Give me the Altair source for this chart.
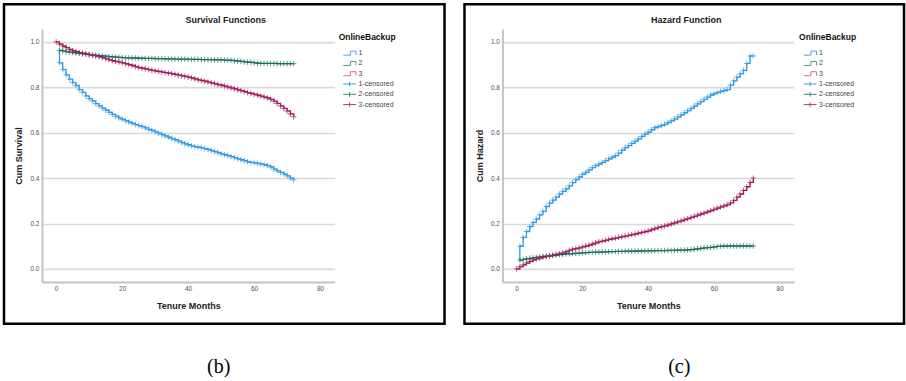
import altair as alt
import pandas as pd

FONT = "Liberation Sans"

# Tenure in months at which each curve steps / shows a censored mark
months_from_1 = list(range(1, 73))
months_from_0 = list(range(0, 73))

# OnlineBackup groups and legend entries
groups = ["1", "2", "3"]
legend_keys = ["1", "2", "3", "1-censored", "2-censored", "3-censored"]

# Cumulative survival, group 1 (months 1..72)
surv_1 = [0.908, 0.878, 0.855, 0.836, 0.821, 0.808, 0.790, 0.778, 0.762, 0.750,
          0.740, 0.728, 0.718, 0.708, 0.700, 0.690, 0.681, 0.673, 0.665, 0.659,
          0.653, 0.647, 0.641, 0.636, 0.631, 0.627, 0.621, 0.615, 0.610, 0.604,
          0.598, 0.592, 0.586, 0.580, 0.574, 0.569, 0.563, 0.557, 0.551, 0.547,
          0.542, 0.538, 0.536, 0.533, 0.530, 0.526, 0.521, 0.517, 0.512, 0.507,
          0.503, 0.499, 0.495, 0.490, 0.485, 0.481, 0.477, 0.472, 0.469, 0.467,
          0.465, 0.462, 0.459, 0.455, 0.449, 0.440, 0.432, 0.425, 0.418, 0.410,
          0.400, 0.392]
surv_start_1 = [1, 0.966]

# Cumulative survival, group 2 (months 1..72)
surv_2 = [0.963, 0.960, 0.957, 0.955, 0.953, 0.951, 0.949, 0.947, 0.946, 0.944,
          0.942, 0.941, 0.939, 0.938, 0.937, 0.935, 0.934, 0.933, 0.932, 0.931,
          0.930, 0.930, 0.929, 0.929, 0.928, 0.928, 0.927, 0.927, 0.927, 0.926,
          0.926, 0.926, 0.925, 0.925, 0.925, 0.924, 0.924, 0.924, 0.924, 0.923,
          0.923, 0.923, 0.923, 0.922, 0.922, 0.922, 0.922, 0.921, 0.921, 0.921,
          0.920, 0.920, 0.919, 0.917, 0.915, 0.914, 0.912, 0.911, 0.910, 0.908,
          0.906, 0.905, 0.905, 0.905, 0.905, 0.905, 0.904, 0.904, 0.904, 0.904,
          0.904, 0.904]

# Cumulative survival, group 3 (months 0..72)
surv_3 = [1.000, 0.990, 0.982, 0.975, 0.967, 0.961, 0.957, 0.953, 0.950, 0.947,
          0.944, 0.941, 0.938, 0.935, 0.931, 0.926, 0.921, 0.917, 0.914, 0.911,
          0.908, 0.904, 0.900, 0.896, 0.891, 0.887, 0.884, 0.881, 0.878, 0.875,
          0.872, 0.870, 0.867, 0.865, 0.862, 0.860, 0.857, 0.854, 0.851, 0.848,
          0.845, 0.841, 0.837, 0.833, 0.830, 0.827, 0.823, 0.819, 0.816, 0.812,
          0.809, 0.805, 0.801, 0.797, 0.793, 0.789, 0.785, 0.781, 0.777, 0.773,
          0.769, 0.765, 0.761, 0.757, 0.753, 0.747, 0.739, 0.729, 0.718, 0.707,
          0.696, 0.683, 0.670]

# Cumulative hazard, group 1 (months 1..72)
haz_1 = [0.100, 0.139, 0.165, 0.187, 0.205, 0.220, 0.238, 0.254, 0.275, 0.290,
         0.303, 0.316, 0.330, 0.342, 0.353, 0.366, 0.380, 0.393, 0.405, 0.417,
         0.426, 0.436, 0.446, 0.455, 0.462, 0.469, 0.477, 0.485, 0.492, 0.499,
         0.510, 0.523, 0.534, 0.543, 0.553, 0.563, 0.573, 0.584, 0.594, 0.603,
         0.613, 0.622, 0.627, 0.632, 0.637, 0.645, 0.652, 0.660, 0.670, 0.679,
         0.688, 0.697, 0.707, 0.717, 0.727, 0.737, 0.747, 0.757, 0.766, 0.772,
         0.777, 0.782, 0.785, 0.790, 0.810, 0.828, 0.845, 0.860, 0.875, 0.905,
         0.938, 0.938]
haz_start_1 = [1, 0.035]

# Cumulative hazard, group 2 (months 1..72)
haz_2 = [0.039, 0.042, 0.045, 0.047, 0.049, 0.051, 0.053, 0.055, 0.056, 0.058,
         0.060, 0.061, 0.063, 0.064, 0.066, 0.067, 0.068, 0.069, 0.070, 0.071,
         0.072, 0.073, 0.073, 0.074, 0.074, 0.075, 0.075, 0.076, 0.076, 0.077,
         0.077, 0.077, 0.078, 0.078, 0.078, 0.079, 0.079, 0.079, 0.080, 0.080,
         0.080, 0.081, 0.081, 0.081, 0.081, 0.082, 0.082, 0.082, 0.083, 0.083,
         0.083, 0.084, 0.085, 0.087, 0.089, 0.091, 0.093, 0.094, 0.095, 0.097,
         0.099, 0.100, 0.101, 0.101, 0.101, 0.101, 0.101, 0.101, 0.101, 0.101,
         0.101, 0.101]

# Cumulative hazard, group 3 (months 0..72)
haz_3 = [0.000, 0.010, 0.018, 0.026, 0.033, 0.040, 0.044, 0.048, 0.052, 0.055,
         0.058, 0.061, 0.064, 0.067, 0.071, 0.076, 0.082, 0.087, 0.090, 0.093,
         0.097, 0.101, 0.105, 0.110, 0.115, 0.120, 0.123, 0.126, 0.130, 0.133,
         0.136, 0.139, 0.142, 0.145, 0.148, 0.151, 0.154, 0.158, 0.161, 0.164,
         0.168, 0.173, 0.178, 0.183, 0.186, 0.190, 0.194, 0.199, 0.203, 0.208,
         0.212, 0.217, 0.222, 0.227, 0.232, 0.237, 0.242, 0.247, 0.252, 0.257,
         0.262, 0.268, 0.273, 0.278, 0.283, 0.291, 0.302, 0.316, 0.330, 0.346,
         0.362, 0.381, 0.400]

x_ticks = [0, 20, 40, 60, 80]
y_ticks = [0.0, 0.2, 0.4, 0.6, 0.8, 1.0]

line_colors = ["#2e9ae6", "#1b6e61", "#a3195b"]
legend_colors = ["#4aa6e8", "#5c9a90", "#cf6f9a", "#2e9ae6", "#3f857b", "#b8386f"]

# Custom glyphs: step line for the survival curves, thin plus for censored cases
STEP_PATH = "M-1.6,0.5H0.2V-0.5H1.6V0.5"
PLUS_LEGEND = "M-1.6,0H1.6M0,-0.55V0.55"
PLUS_MARK = "M-1,0H1M0,-1V1"
legend_shapes = [STEP_PATH] * 3 + [PLUS_LEGEND] * 3

one_row = pd.DataFrame({"k": [0]})


def panel(title, y_title, series, caption, width):
    height = 253
    line_rows, mark_rows = [], []
    for grp, months, vals, start in series:
        seq = 0
        if start is not None:
            line_rows.append({"grp": grp, "t": start[0], "v": start[1], "seq": seq})
            seq += 1
        for t, v in zip(months, vals):
            line_rows.append({"grp": grp, "t": t, "v": v, "seq": seq})
            mark_rows.append({"grp": grp, "t": t, "v": v})
            seq += 1
    lines_df = pd.DataFrame(line_rows)
    marks_df = pd.DataFrame(mark_rows)

    xs = alt.Scale(domain=[-4.3, 84.4], nice=False, zero=False)
    ys = alt.Scale(domain=[-0.057, 1.056], nice=False, zero=False)
    x_axis = alt.Axis(values=x_ticks, title="Tenure Months", grid=False, ticks=False,
                      labelFontSize=6.5, labelColor="#555555", labelPadding=4,
                      labelFont=FONT, domainColor="#c4c4c4", domainWidth=2,
                      titleFont=FONT, titleFontSize=9, titleFontWeight="bold",
                      titleColor="#222222", titlePadding=9)
    y_axis = alt.Axis(values=y_ticks, format=".1f", title=y_title, grid=True,
                      gridColor="#dadada", gridWidth=1.6, ticks=False,
                      labelFontSize=6.5, labelColor="#555555", labelPadding=3,
                      labelFont=FONT, domainColor="#c4c4c4", domainWidth=2,
                      titleFont=FONT, titleFontSize=9, titleFontWeight="bold",
                      titleColor="#222222", titlePadding=6)
    grp_color = alt.Color("grp:N", scale=alt.Scale(domain=groups, range=line_colors),
                          legend=None)

    frame = alt.Chart(one_row).mark_rect(fillOpacity=0, stroke="black", strokeWidth=2.5).encode(
        x=alt.value(-38), x2=alt.value(width + 110), y=alt.value(-25), y2=alt.value(295)
    )
    lines = alt.Chart(lines_df).mark_line(interpolate="step-after", strokeWidth=1.3).encode(
        x=alt.X("t:Q", scale=xs, axis=x_axis),
        y=alt.Y("v:Q", scale=ys, axis=y_axis),
        color=grp_color,
        order=alt.Order("seq:Q"),
    )
    marks = alt.Chart(marks_df).mark_point(shape=PLUS_MARK, size=30, filled=False,
                                           strokeWidth=1).encode(
        x=alt.X("t:Q", scale=xs),
        y=alt.Y("v:Q", scale=ys),
        color=grp_color,
    )
    leg = alt.Legend(title="OnlineBackup", orient="none", legendX=297, legendY=4,
                     direction="vertical", padding=0,
                     titleFont=FONT, titleFontSize=8.5, titleFontWeight="bold",
                     titleColor="#111111", titlePadding=7,
                     labelFont=FONT, labelFontSize=7, labelColor="#444444",
                     labelOffset=4.5, symbolSize=64, symbolStrokeWidth=1,
                     symbolOpacity=1, symbolOffset=6.5, rowPadding=1.3)
    legend_layer = alt.Chart(pd.DataFrame({"key": legend_keys})).mark_point(
        opacity=0, filled=False
    ).encode(
        color=alt.Color("key:N", scale=alt.Scale(domain=legend_keys, range=legend_colors),
                        legend=leg),
        shape=alt.Shape("key:N", scale=alt.Scale(domain=legend_keys, range=legend_shapes),
                        legend=leg),
    )
    title_text = alt.Chart(one_row).mark_text(
        text=title, font=FONT, fontSize=9, fontWeight="bold", color="#222222"
    ).encode(x=alt.value(184), y=alt.value(-9))
    caption_text = alt.Chart(one_row).mark_text(
        text=caption, font="Liberation Serif", fontSize=20, color="#000000"
    ).encode(x=alt.value(177), y=alt.value(338))

    return alt.layer(frame, lines, marks, legend_layer, title_text, caption_text).properties(
        width=width, height=height
    ).resolve_scale(color="independent", shape="independent")


left = panel(
    "Survival Functions", "Cum Survival",
    [("1", months_from_1, surv_1, surv_start_1),
     ("2", months_from_1, surv_2, None),
     ("3", months_from_0, surv_3, None)],
    "(b)", 293,
)
right = panel(
    "Hazard Function", "Cum Hazard",
    [("1", months_from_1, haz_1, haz_start_1),
     ("2", months_from_1, haz_2, None),
     ("3", months_from_0, haz_3, None)],
    "(c)", 292,
)

chart = alt.hconcat(left, right, spacing=16).resolve_scale(
    x="independent", y="independent", color="independent", shape="independent"
).resolve_legend(color="independent", shape="independent").properties(
    padding={"left": 2, "top": 2, "right": 0, "bottom": 0},
    background="white",
).configure_view(stroke=None)

chart.save("out.html", embed_options={"renderer": "svg", "actions": False})
